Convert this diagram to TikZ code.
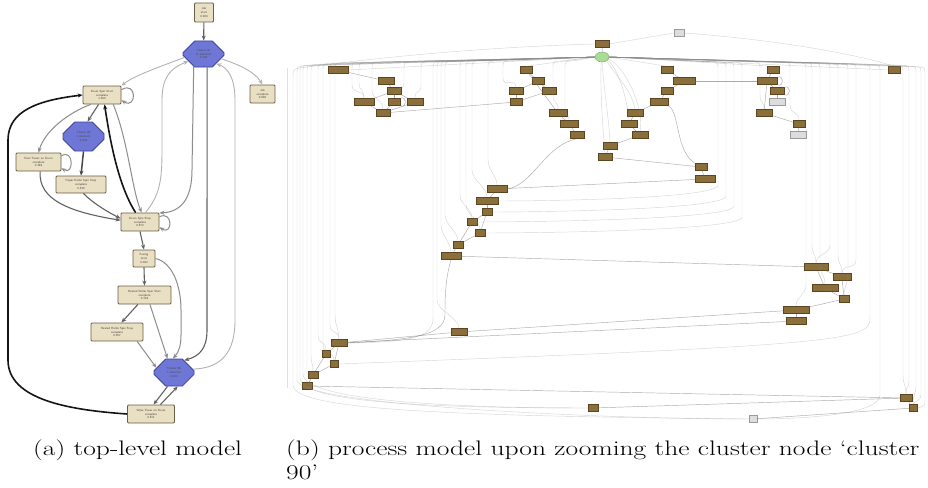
\documentclass[tikz,border=0pt]{standalone}
\usepackage{graphicx}
\usetikzlibrary{arrows.meta,shapes.misc,shapes.geometric}
\definecolor{lfill}{HTML}{E9DFC3}
\definecolor{lbord}{HTML}{6B5F45}
\definecolor{ofill}{HTML}{6E76D6}
\definecolor{obord}{HTML}{3E459A}
\definecolor{rbf}{HTML}{8B6F3A}
\definecolor{rbd}{HTML}{5B4520}
\definecolor{gbf}{HTML}{DDDDDD}
\definecolor{gbd}{HTML}{9A9A9A}
\definecolor{grf}{HTML}{A9DD96}
\definecolor{grd}{HTML}{6DAA5E}
\tikzset{
  lbox/.style={draw=lbord, fill=lfill, rounded corners=1pt, line width=0.8pt, inner sep=0pt, align=center,
    font=\sffamily\fontsize{3}{3.6}\selectfont, text=black!75},
  oct/.style={chamfered rectangle, chamfered rectangle xsep=7pt, chamfered rectangle ysep=7pt,
    draw=obord, fill=ofill, line width=0.8pt, inner sep=0pt, align=center,
    font=\sffamily\fontsize{3}{3.6}\selectfont, text=black!70},
  rb/.style={draw=rbd, fill=rbf, line width=0.4pt, minimum height=7pt, minimum width=#1, inner sep=0pt},
  rb/.default=14pt,
  gb/.style={draw=gbd, fill=gbf, line width=0.4pt, minimum height=7pt, minimum width=#1, inner sep=0pt},
  gb/.default=12pt,
  arr/.style={-{Stealth[length=5pt,width=4pt]}},
  ed/.style={draw=black!62, line width=1.1pt},
  edk/.style={draw=black!72, line width=1.5pt},
  em/.style={draw=black!45, line width=1pt},
  el/.style={draw=black!30, line width=0.9pt},
  blk/.style={draw=black!92, line width=1.6pt},
  fe/.style={draw=black!45, draw opacity=0.35, line width=0.45pt},
  fc/.style={draw=black!55, draw opacity=0.6, line width=0.45pt},
  captext/.style={anchor=base west, inner sep=0pt, font=\fontsize{21}{24}\selectfont}
}
\begin{document}
\begin{tikzpicture}[x=1pt,y=-1pt]
\useasboundingbox (0,0) rectangle (928,487);
\fill[white] (0,0) rectangle (928,487);

% ---------------- panel (a) ----------------
\draw[black!12, line width=0.8pt] (287,68) -- (287,388);
\node[lbox,minimum width=19pt,minimum height=19pt] (js) at (204,12.5) {Job\\start\\0.000};
\node[oct,minimum width=41pt,minimum height=26pt] (c90) at (203.5,54) {Cluster 90\\74 elements\\0.118};
\node[lbox,minimum width=25pt,minimum height=18pt] (jc) at (262.5,94) {Job\\complete\\0.000};
\node[lbox,minimum width=38pt,minimum height=18pt] (dss) at (102,95) {Drum Spin Start\\complete\\1.000};
\node[oct,minimum width=41pt,minimum height=29pt] (c98) at (83.5,136.5) {Cluster 98\\3 elements\\0.338};
\node[lbox,minimum width=45pt,minimum height=18pt] (dt) at (38.5,162) {Dust Tower on Drum\\complete\\0.348};
\node[lbox,minimum width=50pt,minimum height=17pt] (prs) at (81,184.5) {Paper Roller Spin Stop\\complete\\0.330};
\node[lbox,minimum width=38pt,minimum height=18pt] (dstop) at (140,222) {Drum Spin Stop\\complete\\0.573};
\node[lbox,minimum width=22pt,minimum height=17pt] (fs) at (144,258.5) {Fusing\\start\\0.092};
\node[lbox,minimum width=53pt,minimum height=18pt] (hrss) at (144.5,295) {Heated Roller Spin Start\\complete\\0.118};
\node[lbox,minimum width=52pt,minimum height=18pt] (hrst) at (117,332) {Heated Roller Spin Stop\\complete\\0.057};
\node[oct,minimum width=40pt,minimum height=27pt] (c88) at (174,372.5) {Cluster 88\\7 elements\\0.202};
\node[lbox,minimum width=47pt,minimum height=18pt] (wt) at (151,414) {Wipe Tower on Drum\\complete\\0.511};

\draw[ed,arr] (js) -- (c90);
\draw[el,arr] (c90.190) .. controls (165,65) and (135,75) .. (dss.north east);
\draw[el,arr] (c90.-15) .. controls (240,65) and (255,72) .. (jc.north);
\draw[em,arr] (dss.15) .. controls (137,80) and (137,110) .. (dss.-15);
\draw[ed,arr] (dss.-110) -- (c98.75);
\draw[em,arr] (dss.-140) .. controls (70,112) and (45,130) .. (dt.north);
\draw[edk,arr] (c98.south) -- (prs.north);
\draw[em,arr] (dt.15) .. controls (74,148) and (74,176) .. (dt.-15);
\draw[ed,arr] (dt.-80) .. controls (38,200) and (70,212) .. (dstop.175);
\draw[ed,arr] (prs.-75) .. controls (95,205) and (110,213) .. (dstop.170);
\draw[blk,arr] (wt.west) .. controls (70,410) and (8,400) .. (8,360) -- (8,140) .. controls (8,110) and (40,100) .. (dss.west);
\draw[blk,arr] (dstop.115) .. controls (118,185) and (110,140) .. (dss.-75);
\draw[em,arr] (dss.-40) .. controls (128,140) and (132,190) .. (dstop.80);
\draw[em,arr] (dstop.15) .. controls (173,210) and (173,236) .. (dstop.-15);
\draw[el,arr] (dstop.60) .. controls (160,195) and (162,180) .. (162,150) -- (162,100) .. controls (162,78) and (170,68) .. (c90.-154);
\draw[em,arr] (c90.-128) -- (192,170) .. controls (192,200) and (180,212) .. (dstop.25);
\draw[ed,arr] (c90.-75) -- (207,330) .. controls (207,348) and (200,356) .. (c88.50);
\draw[el,arr] (c88.10) .. controls (222,368) and (235,352) .. (235,320) -- (235,100) .. controls (235,78) and (228,68) .. (c90.-37);
\draw[ed,arr] (dstop.south) -- (fs.north);
\draw[ed,arr] (fs.south) -- (hrss.north);
\draw[em,arr] (fs.east) .. controls (172,262) and (181,285) .. (181,310) -- (181,335) .. controls (181,345) and (179,352) .. (c88.95);
\draw[ed,arr] (hrss.-125) -- (hrst.65);
\draw[em,arr] (hrss.-60) -- (c88.115);
\draw[em,arr] (hrst.-25) -- (c88.165);
\draw[ed,arr] (c88.-115) -- (wt.75);
\draw[ed,arr] (wt.45) -- (c88.-75);

% ---------------- panel (b) ----------------
\node[rb=14pt] (r0) at (602,44) {};
\node[ellipse, draw=grd, fill=grf, minimum width=14pt, minimum height=10pt, inner sep=0pt] (rg) at (602,57) {};
\node[gb=10pt] (gr0) at (679,33) {};
\node[rb=20pt] (a1) at (338,70) {};
\node[rb=16pt] (a2) at (386,81) {};
\node[rb=14pt] (a3) at (394,91) {};
\node[rb=20pt] (a4) at (364,102) {};
\node[rb=12pt] (a5) at (394,102) {};
\node[rb=16pt] (a6) at (415,102) {};
\node[rb=14pt] (a7) at (383,113) {};
\node[rb=12pt] (b1) at (526,70) {};
\node[rb=12pt] (b2) at (538,81) {};
\node[rb=14pt] (b3) at (516,91) {};
\node[rb=14pt] (b4) at (549,91) {};
\node[rb=12pt] (b5) at (516,102) {};
\node[rb=18pt] (b6) at (558,113) {};
\node[rb=18pt] (b7) at (569,124) {};
\node[rb=14pt] (b8) at (577,135) {};
\node[rb=14pt] (c1) at (610,146) {};
\node[rb=14pt] (c2) at (605,157) {};
\node[rb=12pt] (d1) at (667,70) {};
\node[rb=22pt] (d2) at (684,81) {};
\node[rb=12pt] (d3) at (667,91) {};
\node[rb=18pt] (d4) at (659,102) {};
\node[rb=16pt] (d5) at (635,113) {};
\node[rb=16pt] (d6) at (629,124) {};
\node[rb=16pt] (d7) at (640,135) {};
\node[rb=12pt] (e1) at (701,167) {};
\node[rb=20pt] (e2) at (705,179) {};
\node[rb=12pt] (f1) at (773,70) {};
\node[rb=20pt] (f2) at (767,81) {};
\node[rb=14pt] (f3) at (777,91) {};
\node[gb=16pt] (fg1) at (777,102) {};
\node[rb=16pt] (f4) at (764,113) {};
\node[rb=12pt] (f5) at (799,124) {};
\node[gb=16pt] (fg2) at (798,135) {};
\node[rb=12pt] (h1) at (894,70) {};
\node[rb=20pt] (m1) at (497,189) {};
\node[rb=22pt] (m2) at (487,201) {};
\node[rb=10pt] (m3) at (487,212) {};
\node[rb=10pt] (m4) at (472,222) {};
\node[rb=10pt] (m5) at (480,233) {};
\node[rb=10pt] (m6) at (458,245) {};
\node[rb=20pt] (m7) at (451,256) {};
\node[rb=24pt] (p1) at (816,267) {};
\node[rb=18pt] (p2) at (842,277) {};
\node[rb=26pt] (p3) at (825,288) {};
\node[rb=10pt] (p4) at (844,299) {};
\node[rb=26pt] (p5) at (796,310) {};
\node[rb=20pt] (p6) at (796,321) {};
\node[rb=16pt] (q1) at (459,332) {};
\node[rb=16pt] (q2) at (339,343) {};
\node[rb=8pt] (q3) at (326,354) {};
\node[rb=8pt] (q4) at (334,364) {};
\node[rb=10pt] (q5) at (313,375) {};
\node[rb=10pt] (q6) at (307,386) {};
\node[rb=12pt] (s1) at (906,398) {};
\node[rb=8pt] (s2) at (913,408) {};
\node[rb=10pt] (s3) at (593,408) {};
\node[gb=8pt] (sg) at (753,419) {};

% left bundle
\foreach \xx/\hy/\ye/\tg in {307/65/365/q6, 311/64.5/355/q5, 318/64/335/q3, 323/63.5/345/q4, 330/63/325/q2, 335/63/315/q2, 352/62.5/85/a4, 359/62.5/82/a4, 372/62/90/a7, 404/62/82/a5, 421/62/85/a6, 437/61.5/300/q1, 441/61.5/225/m7, 445/61.5/215/m6, 460/61/195/m4, 466/61/205/m5, 472/61/170/m2, 488/61/160/m1, 503/61/78/b3, 553/61/95/b6, 565/61/110/b7}
  {\draw[fe] (rg.west) -- (\xx+8,\hy) .. controls (\xx,\hy) .. (\xx,\hy+8) -- (\xx,\ye) .. controls +(0,10) and +(0,-10) .. (\tg.north);}
\foreach \xx/\hy/\ye/\tg in {297/66/380/sg, 300/65.5/378/s3, 303/65/374/s3}
  {\draw[fe] (rg.west) -- (\xx+8,\hy) .. controls (\xx,\hy) .. (\xx,\hy+8) -- (\xx,\ye) .. controls +(0,25) and +(-150,0) .. (\tg.west);}
\draw[fe] (rg.west) -- (441,62) .. controls (433,62) .. (433,70) -- (433,318) .. controls (433,338) and (410,342) .. (q2.east);
\draw[fe] (rg.west) -- (a1.east);
\draw[fe] (rg.west) -- (b1.north);
% right bundle
\foreach \xx/\hy/\ye/\tg in {806/63/285/p5, 812/63/245/p1, 820/63/265/p3, 830/63/245/p1, 838/63/255/p2, 848/63.5/275/p4, 856/63.5/260/p2, 903/65/375/s1, 909/65.5/380/s1, 916/66/385/s2, 760/62/95/f4, 790/62/105/f5}
  {\draw[fe] (rg.east) -- (\xx-8,\hy) .. controls (\xx,\hy) .. (\xx,\hy+8) -- (\xx,\ye) .. controls +(0,10) and +(0,-10) .. (\tg.north);}
\foreach \xx/\hy/\ye/\tg in {718/62/185/m2, 726/62/196/m3, 734/62.5/206/m4, 742/62.5/217/m5}
  {\draw[fe] (rg.east) -- (\xx-8,\hy) .. controls (\xx,\hy) .. (\xx,\hy+8) -- (\xx,\ye) .. controls +(0,14) and +(40,0) .. (\tg.east);}
\draw[fe] (rg.east) -- (862,64) .. controls (870,64) .. (870,72) -- (870,318) .. controls (870,340) and (850,345) .. (q4.east);
\draw[fe] (rg.east) -- (872,64.5) .. controls (880,64.5) .. (880,72) -- (880,395) .. controls (880,415) and (800,419) .. (sg.east);
\draw[fe] (rg.east) -- (913,66.5) .. controls (921,66.5) .. (921,75) -- (921,395) .. controls (921,401) and (914,401) .. (s2.north);
\draw[fe] (rg.east) -- (917,67) .. controls (925,67) .. (925,76) -- (925,400) .. controls (925,406) .. (s2.east);
\draw[fe] (rg.east) -- (h1.west);
\draw[fe] (rg.east) -- (d1.north);
\draw[fe] (rg.east) -- (f1.north);
\draw[fe] (rg.south) .. controls (604,90) and (609,120) .. (c1.north);
\draw[fe] (rg.-100) .. controls (600,100) and (604,140) .. (c2.north);
\draw[fe] (rg.-40) .. controls (615,75) and (632,90) .. (d5.north);
\draw[fe] (rg.-30) .. controls (620,70) and (628,105) .. (d6.north);
\draw[fe] (rg.-20) .. controls (625,65) and (645,110) .. (d7.north);
% top helper lines
\draw[fe] (r0) -- (rg);
\draw[fe] (r0.west) .. controls (450,48) and (330,64) .. (300,68) .. controls (293,69) .. (293,80) -- (293,385) .. controls (293,410) and (450,416) .. (sg.west);
\draw[fe] (r0.east) -- (gr0.west);
\draw[fe] (gr0.east) .. controls (780,40) and (860,55) .. (h1.north);

% chains
\foreach \u/\v in {a1/a2, a2/a3, a3/a4, a3/a5, a3/a6, a4/a7, a5/a7, a6/a7, a7/b5, b1/b2, b2/b3, b2/b4, b3/b5, b4/b5, b1/b6, b6/b7, b7/b8, c1/c2, d1/d2, d2/f2, d2/d3, d3/d4, d4/d5, d5/d6, d6/d7, d7/c1, e1/e2, e2/m1, c2/e1, f1/f2, f2/f3, f3/fg1, f2/f4, f4/f5, f5/fg2, m1/m2, m2/m3, m3/m4, m3/m5, m4/m6, m5/m6, m6/m7, m7/p1, p1/p2, p1/p3, p2/p4, p3/p4, p4/p5, p5/p6, p5/q1, p6/q2, q1/q2, q2/q3, q2/q4, q3/q5, q4/q5, q5/q6, q6/s1, s1/s2, s3/s1, sg/s2}
  {\draw[fc] (\u) -- (\v);}
\draw[fc] (b8.south) .. controls (545,145) and (533,185) .. (m1.east);
\draw[fc] (d4.south east) .. controls (680,112) and (675,150) .. (e1.north west);
\draw[fc] (m7.south) .. controls (445,280) and (445,300) .. (445,315) .. controls (445,338) and (400,340) .. (q2.east);
\draw[fc] (a5.north east) .. controls +(7,-3) and +(7,3) .. (a5.south east);
\draw[fc] (f2.north east) .. controls +(7,-3) and +(7,3) .. (f2.south east);
\draw[fc] (f3.north east) .. controls +(7,-3) and +(7,3) .. (f3.south east);

% ---------------- captions ----------------
\node[captext] (capa) at (33,455) {\scalebox{1.31}[1]{(a) top-level model}};
\node[captext] (capb) at (286,455) {\scalebox{1.31}[1]{(b) process model upon zooming the cluster node `cluster}};
\node[captext] (capb2) at (286,479) {\scalebox{1.31}[1]{90'}};
\end{tikzpicture}
\end{document}
